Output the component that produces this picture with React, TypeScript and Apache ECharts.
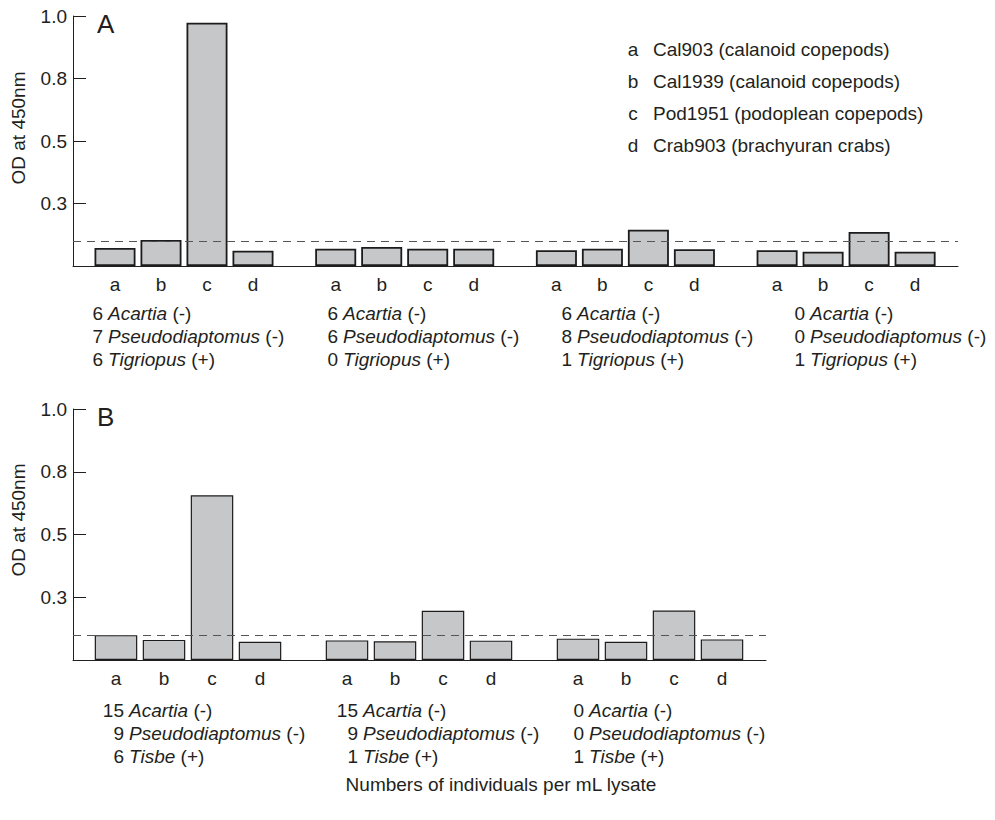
import React, { useEffect, useRef } from "react";
import * as echarts from "echarts";

// ---------- data ----------
const LETTERS = ["a", "b", "c", "d"];
const LEGEND_LABELS = [
  "Cal903 (calanoid copepods)",
  "Cal1939 (calanoid copepods)",
  "Pod1951 (podoplean copepods)",
  "Crab903 (brachyuran crabs)",
];
const Y_TICK_VALUES = [0.25, 0.5, 0.75, 1];
const Y_TICK_LABELS = ["0.3", "0.5", "0.8", "1.0"];

// Panel A: OD values for probes a,b,c,d in each of four lysates
const A_G1 = [0.072, 0.104, 0.973, 0.061];
const A_G2 = [0.069, 0.076, 0.069, 0.069];
const A_G3 = [0.063, 0.069, 0.145, 0.067];
const A_G4 = [0.063, 0.057, 0.136, 0.057];
const A_CUTOFF = 0.103;
const A_ACARTIA = [6, 6, 6, 0];
const A_PSEUDO = [7, 6, 8, 0];
const A_TIGRIOPUS = [6, 0, 1, 1];

// Panel B
const B_G1 = [0.099, 0.08, 0.656, 0.073];
const B_G2 = [0.078, 0.075, 0.196, 0.077];
const B_G3 = [0.085, 0.073, 0.197, 0.082];
const B_CUTOFF = 0.099;
const B_ACARTIA = [15, 15, 0];
const B_PSEUDO = [9, 9, 0];
const B_TISBE = [6, 1, 1];

const X_TITLE = "Numbers of individuals per mL lysate";
const Y_TITLE = "OD at 450nm";

// ---------- layout ----------
const FONT = '"Liberation Sans", Arial, Helvetica, sans-serif';
const INK = "#231f20";
const FS = 19;

const PA = { left: 73, top: 16, width: 885, height: 250, first: 42, barStep: 46, groupStep: 220.7, barWidth: 41, border: 1.8 };
const PB = { left: 73, top: 409, width: 693, height: 251, first: 43, barStep: 48, groupStep: 231, barWidth: 42.5, border: 1.2 };

const A_SPECIES_X = [108, 343, 577, 810];
const A_ROWS_Y = [313, 336, 359];
const B_SPECIES_X = [129, 363, 589];
const B_ROWS_Y = [710, 733, 756];

export default function App() {
  const ref = useRef<HTMLDivElement>(null);

  useEffect(() => {
    if (!ref.current) return;
    const chart = echarts.init(ref.current, null, { renderer: "svg" });

    const build = (groups: number[][], L: typeof PA) => {
      const data: number[][] = [];
      const centers: number[] = [];
      groups.forEach((vals, g) => {
        vals.forEach((v, i) => {
          const x = L.first + g * L.groupStep + i * L.barStep;
          centers.push(x);
          data.push([x, v]);
        });
      });
      return { data, centers };
    };
    const a = build([A_G1, A_G2, A_G3, A_G4], PA);
    const b = build([B_G1, B_G2, B_G3], PB);

    const xAxisFor = (L: typeof PA, centers: number[], gridIndex: number) => ({
      type: "value",
      gridIndex,
      min: 0,
      max: L.width,
      axisLine: { show: true, onZero: false, lineStyle: { color: INK, width: 1 } },
      axisTick: { show: false },
      splitLine: { show: false },
      axisLabel: {
        customValues: centers,
        margin: 9,
        color: INK,
        fontSize: FS,
        fontFamily: FONT,
        formatter: (v: number) => {
          let best = 0;
          centers.forEach((c, i) => {
            if (Math.abs(c - v) < Math.abs(centers[best] - v)) best = i;
          });
          return LETTERS[best % 4];
        },
      },
    });

    const yAxisFor = (gridIndex: number) => ({
      type: "value",
      gridIndex,
      min: 0,
      max: 1,
      interval: 0.25,
      axisLine: { show: true, lineStyle: { color: INK, width: 1 } },
      axisTick: { show: true, inside: true, length: 13, lineStyle: { color: INK, width: 1 } },
      splitLine: { show: false },
      axisLabel: {
        margin: 6,
        color: INK,
        fontSize: FS,
        fontFamily: FONT,
        formatter: (v: number) => {
          const i = Y_TICK_VALUES.indexOf(v);
          return i >= 0 ? Y_TICK_LABELS[i] : "";
        },
      },
    });

    const seriesFor = (data: number[][], L: typeof PA, cutoff: number, idx: number) => ({
      type: "bar",
      xAxisIndex: idx,
      yAxisIndex: idx,
      data,
      barWidth: L.barWidth,
      itemStyle: { color: "#c6c7c9", borderColor: "#1c1c1c", borderWidth: L.border },
      silent: true,
      markLine: {
        silent: true,
        symbol: ["none", "none"],
        label: { show: false },
        lineStyle: { type: [8, 6], color: "#555", width: 1 },
        data: [{ yAxis: cutoff }],
      },
    });

    const graphics: any[] = [];
    const txt = (x: number, y: number, text: string, opts: any = {}, extra: any = {}) =>
      graphics.push({
        type: "text",
        x,
        y,
        ...extra,
        style: {
          text,
          fill: INK,
          fontSize: FS,
          fontFamily: FONT,
          textAlign: "left",
          textVerticalAlign: "middle",
          ...opts,
        },
      });

    // panel letters
    txt(97, 24, "A", { fontSize: 26 });
    txt(97, 417, "B", { fontSize: 26 });

    // y-axis titles
    txt(18.5, 128, Y_TITLE, { textAlign: "center" }, { rotation: Math.PI / 2 });
    txt(18.5, 520, Y_TITLE, { textAlign: "center" }, { rotation: Math.PI / 2 });

    // legend
    const legendY = [49, 81.5, 113, 145];
    LETTERS.forEach((l, i) => {
      txt(633, legendY[i], l, { textAlign: "center" });
      txt(653, legendY[i], LEGEND_LABELS[i]);
    });

    const speciesRow = (x: number, y: number, n: number, species: string, sign: string) => {
      txt(x - 5, y, String(n), { textAlign: "right" });
      graphics.push({
        type: "text",
        x,
        y,
        style: {
          text: `{i|${species}}{n| ${sign}}`,
          fill: INK,
          fontSize: FS,
          fontFamily: FONT,
          textAlign: "left",
          textVerticalAlign: "middle",
          rich: {
            i: { fontStyle: "italic", fontSize: FS, fontFamily: FONT, fill: INK },
            n: { fontSize: FS, fontFamily: FONT, fill: INK },
          },
        },
      });
    };

    A_SPECIES_X.forEach((x, g) => {
      speciesRow(x, A_ROWS_Y[0], A_ACARTIA[g], "Acartia", "(-)");
      speciesRow(x, A_ROWS_Y[1], A_PSEUDO[g], "Pseudodiaptomus", "(-)");
      speciesRow(x, A_ROWS_Y[2], A_TIGRIOPUS[g], "Tigriopus", "(+)");
    });
    B_SPECIES_X.forEach((x, g) => {
      speciesRow(x, B_ROWS_Y[0], B_ACARTIA[g], "Acartia", "(-)");
      speciesRow(x, B_ROWS_Y[1], B_PSEUDO[g], "Pseudodiaptomus", "(-)");
      speciesRow(x, B_ROWS_Y[2], B_TISBE[g], "Tisbe", "(+)");
    });

    txt(501, 784, X_TITLE, { textAlign: "center" });

    chart.setOption({
      animation: false,
      backgroundColor: "#ffffff",
      textStyle: { fontFamily: FONT },
      grid: [
        { left: PA.left, top: PA.top, width: PA.width, height: PA.height },
        { left: PB.left, top: PB.top, width: PB.width, height: PB.height },
      ],
      xAxis: [xAxisFor(PA, a.centers, 0), xAxisFor(PB, b.centers, 1)],
      yAxis: [yAxisFor(0), yAxisFor(1)],
      series: [seriesFor(a.data, PA, A_CUTOFF, 0), seriesFor(b.data, PB, B_CUTOFF, 1)],
      graphic: graphics,
    });

    return () => chart.dispose();
  }, []);

  return (
    <div
      ref={ref}
      style={{ position: "fixed", left: 0, top: 0, width: 995, height: 820, background: "#fff" }}
    />
  );
}
